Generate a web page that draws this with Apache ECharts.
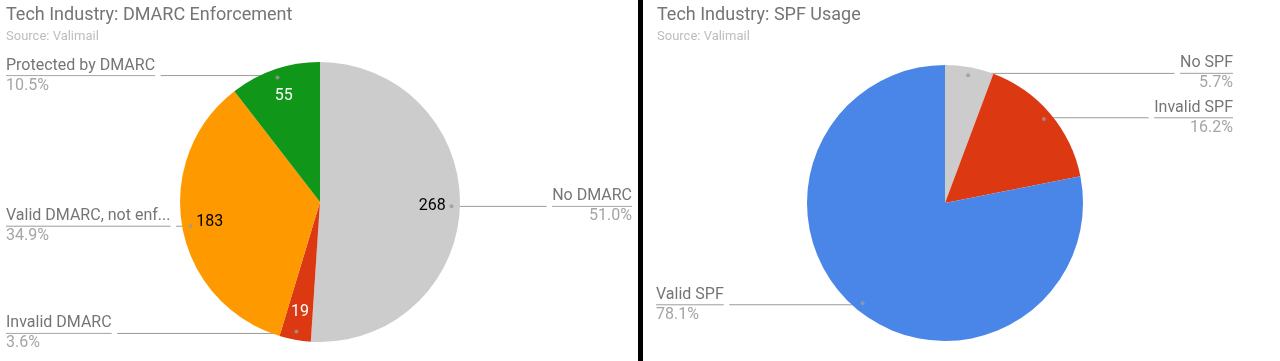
<!DOCTYPE html>
<html><head><meta charset="utf-8">
<script src="https://cdn.jsdelivr.net/npm/echarts@6/dist/echarts.min.js"></script>
<style>
html,body{margin:0;padding:0;background:#fff;}
#wrap{display:flex;width:1280px;height:361px;}
#left{width:638px;height:361px;}
#sep{width:5px;height:361px;background:#000;}
#right{width:637px;height:361px;}
</style></head><body>
<div id="wrap"><div id="left"></div><div id="sep"></div><div id="right"></div></div>
<script>
// ---- data ----
const dmarcTitle = 'Tech Industry: DMARC Enforcement';
const dmarcCategories = ['No DMARC', 'Invalid DMARC', 'Valid DMARC, not enforced', 'Protected by DMARC'];
const dmarcValues = [268, 19, 183, 55];

const spfTitle = 'Tech Industry: SPF Usage';
const spfCategories = ['No SPF', 'Invalid SPF', 'Valid SPF'];
const spfPercents = [5.7, 16.2, 78.1];

const sourceText = 'Source: Valimail';

// ---- styles ----
const dmarcPalette = ['#cccccc', '#dc3912', '#ff9900', '#109618'];
const dmarcValueTextColors = ['#000000', '#ffffff', '#000000', '#ffffff'];
const spfPalette = ['#cccccc', '#dc3912', '#4a86e8'];
const FONT = 'Roboto';

function trunc(s) { return s.length > 20 ? s.slice(0, 20) + '...' : s; }

function buildOption(cfg) {
  const total = cfg.values.reduce((a, b) => a + b, 0);
  const box = { left: cfg.left, right: cfg.right, top: 0, bottom: 0 };
  const base = Object.assign({ type: 'pie', center: cfg.center, startAngle: 90, clockwise: true,
    silent: true, animation: false, emphasis: { disabled: true } }, box);
  const series = [];
  series.push(Object.assign({}, base, {
    radius: cfg.r,
    label: { show: false }, labelLine: { show: false },
    data: cfg.names.map((n, i) => ({ name: n, value: cfg.values[i], itemStyle: { color: cfg.colors[i] } }))
  }));
  series.push(Object.assign({}, base, {
    radius: cfg.r * 0.94,
    itemStyle: { color: 'transparent', borderWidth: 0 },
    avoidLabelOverlap: true,
    label: {
      show: true, position: 'outer', alignTo: 'edge', edgeDistance: cfg.edge,
      formatter: p => '{name|' + trunc(p.name) + '}\n{hr|}\n{pct|' + (p.value / total * 100).toFixed(1) + '%}',
      rich: {
        name: { fontFamily: FONT, fontSize: 16, color: '#757575', lineHeight: 20 },
        hr: { width: '100%', height: 0, borderColor: '#9a9a9a', borderWidth: 0.6 },
        pct: { fontFamily: FONT, fontSize: 16, color: '#a5a5a5', lineHeight: 20 }
      }
    },
    labelLine: { show: true, length: 2, length2: 10, lineStyle: { color: '#9a9a9a', width: 1 } },
    data: cfg.names.map((n, i) => ({ name: n, value: cfg.values[i] }))
  }));
  if (cfg.valueColors) {
    series.push(Object.assign({}, base, {
      radius: [cfg.r * 0.56, cfg.r],
      itemStyle: { color: 'transparent', borderWidth: 0 },
      labelLine: { show: false },
      label: { show: true, position: 'inside', formatter: '{c}', fontFamily: FONT, fontSize: 16 },
      data: cfg.names.map((n, i) => ({ name: n, value: cfg.values[i], label: { color: cfg.valueColors[i] } }))
    }));
  }
  // small dots where the leader lines start (mid-angle of each slice, 0.94 r)
  let cum = 0;
  const dots = cfg.values.map(v => { const mid = cum + v / 2; cum += v; return [0.94, mid]; });
  series.push({
    type: 'scatter', coordinateSystem: 'polar', symbol: 'circle', symbolSize: 4, silent: true,
    itemStyle: { color: '#9a9a9a' }, data: dots, z: 5
  });
  return {
    backgroundColor: '#fff',
    animation: false,
    polar: { center: cfg.polarCenter, radius: cfg.r },
    angleAxis: { type: 'value', min: 0, max: total, startAngle: 90, clockwise: true, show: false },
    radiusAxis: { type: 'value', min: 0, max: 1, show: false },
    title: {
      text: cfg.title, subtext: sourceText, left: cfg.titleLeft, top: 6, padding: 0, itemGap: 6,
      textStyle: { fontFamily: FONT, fontSize: 18, fontWeight: 'normal', color: '#757575' },
      subtextStyle: { fontFamily: FONT, fontSize: 13, color: '#bdbdbd' }
    },
    series
  };
}

const c1 = echarts.init(document.getElementById('left'), null, { renderer: 'canvas' });
c1.setOption(buildOption({
  title: dmarcTitle, titleLeft: 6, names: dmarcCategories, values: dmarcValues,
  colors: dmarcPalette, valueColors: dmarcValueTextColors,
  left: 0, right: 0, center: [320, 202], polarCenter: [320, 202], r: 140, edge: 6
}));
const c2 = echarts.init(document.getElementById('right'), null, { renderer: 'canvas' });
c2.setOption(buildOption({
  title: spfTitle, titleLeft: 14, names: spfCategories, values: spfPercents,
  colors: spfPalette, valueColors: null,
  left: 7, right: 41, center: [295, 203], polarCenter: [302, 203], r: 138, edge: 6
}));
</script>
</body></html>
